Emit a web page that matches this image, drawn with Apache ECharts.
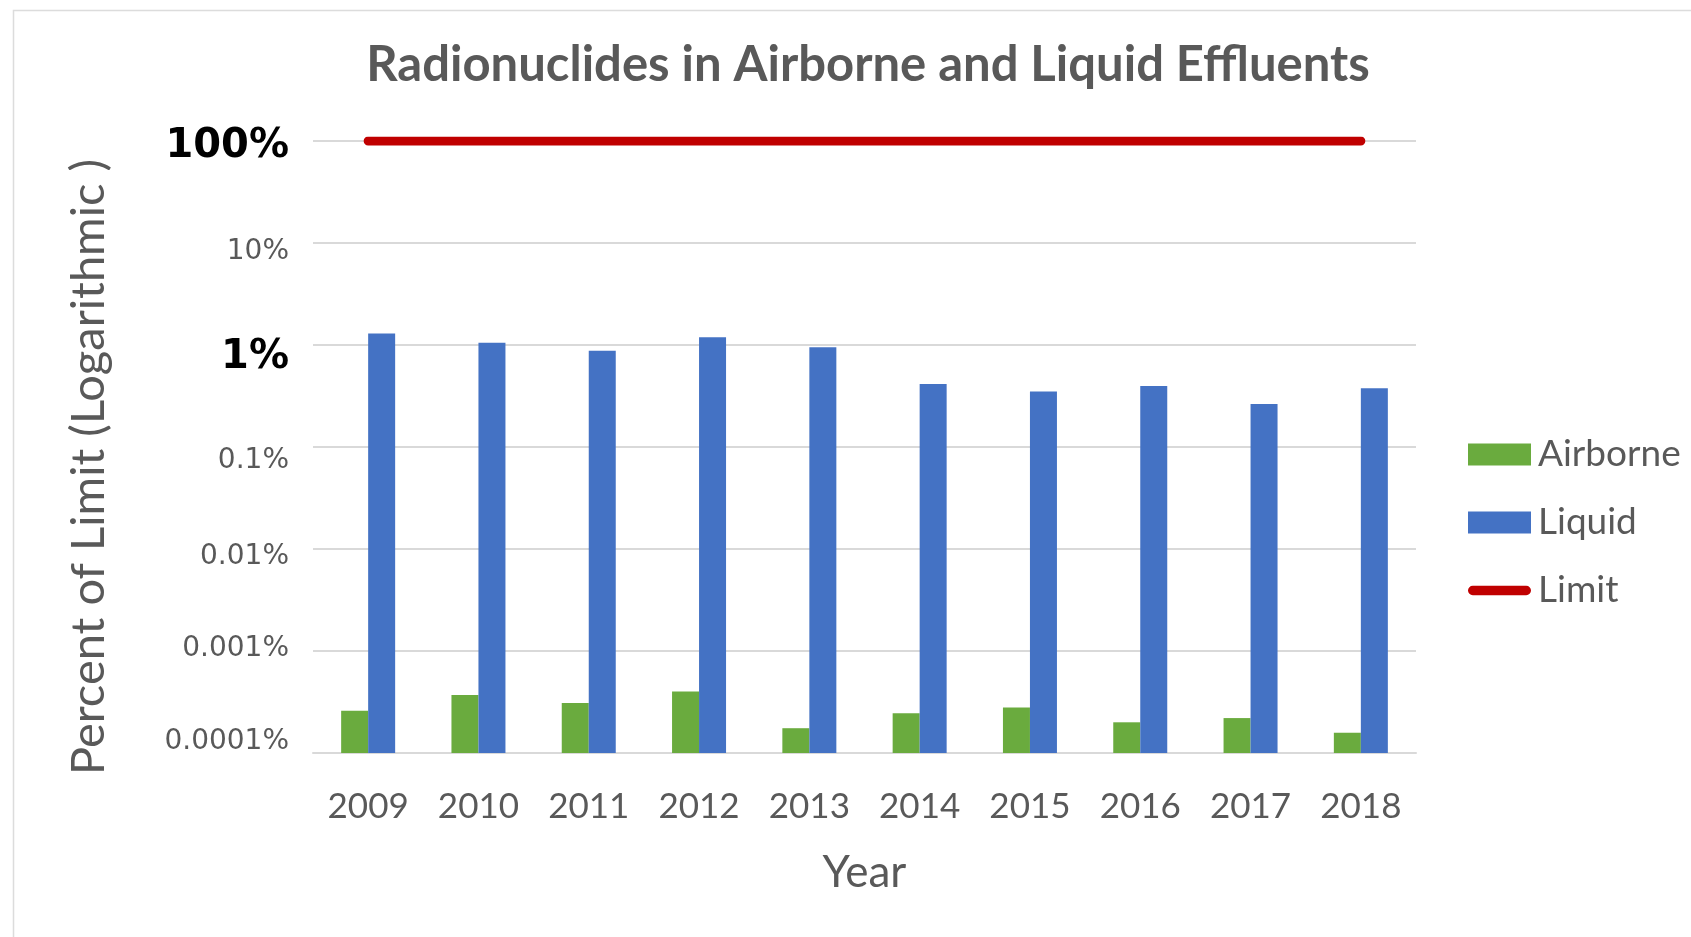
<!DOCTYPE html>
<html>
<head>
<meta charset="utf-8">
<script src="https://cdn.jsdelivr.net/npm/echarts@6/dist/echarts.min.js"></script>
<style>
html,body{margin:0;padding:0;background:#fff;}
#chart{width:1691px;height:937px;}
</style>
</head>
<body>
<div id="chart"></div>
<script>
// ---- data (values in percent of limit) ----
const years = ['2009','2010','2011','2012','2013','2014','2015','2016','2017','2018'];
const airborne = [0.00026, 0.00037, 0.00031, 0.00040, 0.000175, 0.000245, 0.00028, 0.000200, 0.000220, 0.000158];
const liquid = [1.30, 1.05, 0.88, 1.19, 0.95, 0.415, 0.35, 0.396, 0.264, 0.376];
const limit = [100, 100, 100, 100, 100, 100, 100, 100, 100, 100];
const yTickLabels = ['0.0001%','0.001%','0.01%','0.1%','1%','10%','100%'];
const boldTicks = ['1%','100%'];

const chart = echarts.init(document.getElementById('chart'));
const gray = '#595959';

// per-label vertical nudges (px, positive = down), styling only
const labelNudge = [-11, -2, 8, 14, 13, 9, 6];
const rich = {};
labelNudge.forEach(function (d, i) {
  const bold = boldTicks.indexOf(yTickLabels[i]) >= 0;
  rich['t' + i] = {
    fontFamily: 'DejaVu Sans',
    fontWeight: bold ? 'bold' : 'normal',
    fontSize: bold ? 40 : 28,
    color: bold ? '#000' : gray,
    padding: d >= 0 ? [2 * d, 0, 0, 0] : [0, 0, -2 * d, 0]
  };
});

const option = {
  backgroundColor: '#ffffff',
  animation: false,
  graphic: [{
    type: 'rect', left: 11, top: 8,
    shape: { width: 1720, height: 1000 },
    style: { fill: 'none', stroke: '#dcdcdc', lineWidth: 1.5 },
    silent: true
  }],
  title: {
    text: 'Radionuclides in Airborne and Liquid Effluents',
    left: 863, top: 36, textAlign: 'center',
    textStyle: { fontFamily: 'Lato', fontWeight: 'bold', fontSize: 49, color: gray }
  },
  legend: {
    orient: 'vertical',
    left: 1463, top: 431,
    itemWidth: 63, itemHeight: 22, itemGap: 31,
    textStyle: { fontFamily: 'Lato', fontSize: 37, color: gray, lineHeight: 37, padding: [0,0,0,2] },
    data: [
      { name: 'Airborne', icon: 'rect' },
      { name: 'Liquid', icon: 'rect' },
      { name: 'Limit', icon: 'path://M0,0 M66,22 M5,6 L61,6 A5,5 0 0 1 61,16 L5,16 A5,5 0 0 1 5,6 Z' }
    ]
  },
  grid: { left: 313, right: 275, top: 141, bottom: 184 },
  xAxis: {
    type: 'category',
    data: years,
    boundaryGap: true,
    name: 'Year',
    nameLocation: 'middle',
    nameGap: 98,
    nameTextStyle: { fontFamily: 'Lato', fontSize: 44, color: gray },
    axisLine: { lineStyle: { color: '#d9d9d9', width: 2 } },
    axisTick: { show: false },
    axisLabel: { fontFamily: 'Lato', fontSize: 35, color: gray, margin: 36 }
  },
  yAxis: {
    type: 'log',
    logBase: 10,
    min: 0.0001,
    max: 100,
    startValue: 0.0001,
    name: 'Percent of Limit (Logarithmic )',
    nameLocation: 'middle',
    nameGap: 201,
    nameTextStyle: { fontFamily: 'Lato', fontSize: 47, color: gray, padding: [0, 40, 0, 0] },
    axisLine: { show: false },
    axisTick: { show: false },
    splitLine: { lineStyle: { color: '#d9d9d9', width: 2 } },
    axisLabel: {
      margin: 24,
      formatter: function (v) {
        const i = Math.round(Math.log10(v)) + 4;
        return '{t' + i + '|' + yTickLabels[i] + '}';
      },
      rich: rich
    }
  },
  series: [
    {
      name: 'Airborne', type: 'bar', data: airborne,
      barWidth: 27, barGap: '0%',
      itemStyle: { color: '#6aab3e' }
    },
    {
      name: 'Liquid', type: 'bar', data: liquid,
      barWidth: 27, barGap: '0%',
      itemStyle: { color: '#4472c4' }
    },
    {
      name: 'Limit', type: 'line', data: limit,
      symbol: 'none',
      lineStyle: { color: '#c00000', width: 9, cap: 'round' },
      itemStyle: { color: '#c00000' },
      z: 5
    }
  ]
};
chart.setOption(option);
</script>
</body>
</html>
